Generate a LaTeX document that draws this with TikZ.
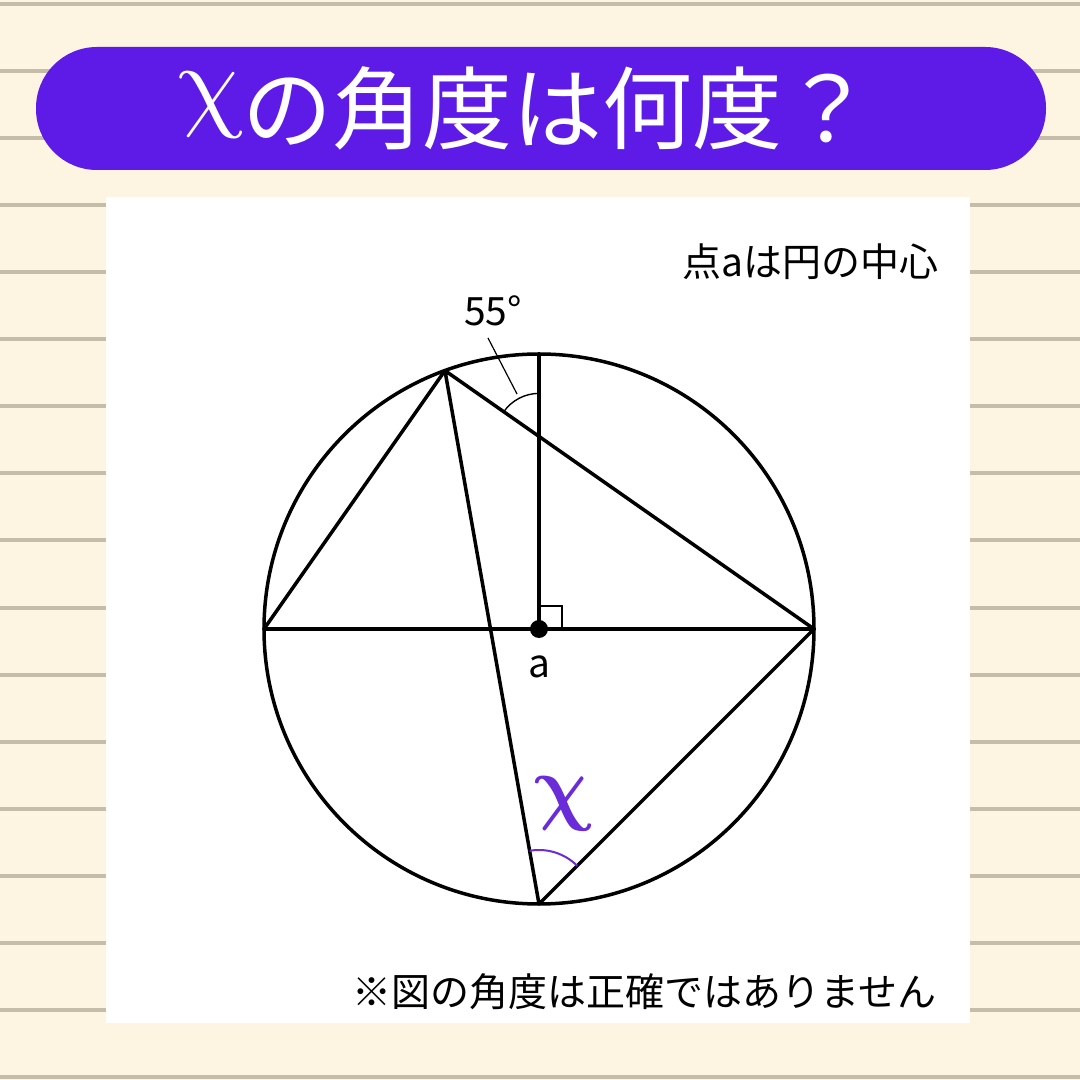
\documentclass[tikz,border=0pt]{standalone}
\usepackage{fontspec}
\setmainfont{Noto Sans CJK JP}
\usetikzlibrary{calc}
\definecolor{bgc}{HTML}{FDF5E1}
\definecolor{rulec}{HTML}{C5BCA9}
\definecolor{banc}{HTML}{5E1BE8}
\definecolor{purc}{HTML}{6A2BD9}
\newcommand{\boldchi}{\mbox{\mathversion{bold}$\chi$}}
\tikzset{
  geo/.style={line width=3.5, line join=round, line cap=round},
  thinl/.style={line width=1.4},
  txt/.style={inner sep=0pt, font=\fontsize{39}{39}\selectfont},
  chis/.style={inner sep=0pt, xslant=-0.18},
}
\begin{document}
\begin{tikzpicture}[x=1pt,y=1pt]
\useasboundingbox (0,0) rectangle (1080,1080);
\fill[bgc] (0,0) rectangle (1080,1080);
\foreach \k in {0,...,16} \draw[rulec, line width=4] (0,{1076-67.06*\k}) -- (1080,{1076-67.06*\k});
\fill[banc, rounded corners=61] (36,910) rectangle (1046,1033);
\fill[white] (106,57) rectangle (970,883);
% title
\node[white, chis, scale=10.5] (tchi) at (211,975) {$\chi$};
\node[white, anchor=west, inner sep=0pt, font=\fontsize{90}{90}\selectfont] (ttl) at (242,972) {の角度は何度？};
% geometry
\coordinate (O) at (539,451);
\coordinate (T) at (539,726);
\coordinate (L) at (264,451);
\coordinate (R) at (814,451);
\coordinate (B) at (539,176);
\coordinate (P) at ($(O)+(110:275)$);
\coordinate (I) at (539,643.6);
\draw[geo] (O) circle[radius=275];
\draw[geo] (L) -- (R);
\draw[geo] (O) -- (T);
\draw[geo] (L) -- (P) -- (R) -- (B) -- (P);
% angle marks
\draw[thinl] ($(I)+(90:43)$) arc[start angle=90, end angle=145, radius=43];
\draw[purc, line width=2] ($(B)+(45:54)$) arc[start angle=45, end angle=100, radius=54];
\draw[line width=1.8] (539,474) -| (562,451);
\fill (O) circle[radius=9];
\coordinate (l1) at (488,742);
\coordinate (l2) at (517,686);
\draw[line width=1.2] (l1) -- (l2);
% labels
\node[txt] (ang) at (493,769) {55°};
\node[txt] (ctr) at (539,413) {a};
\node[purc, chis, xscale=7.8, yscale=8.5] (xl) at (564,276) {\boldchi};
\node[txt, anchor=east] (note1) at (939,818) {点aは円の中心};
\node[txt, anchor=east] (note2) at (937,88) {※図の角度は正確ではありません};
\end{tikzpicture}
\end{document}
